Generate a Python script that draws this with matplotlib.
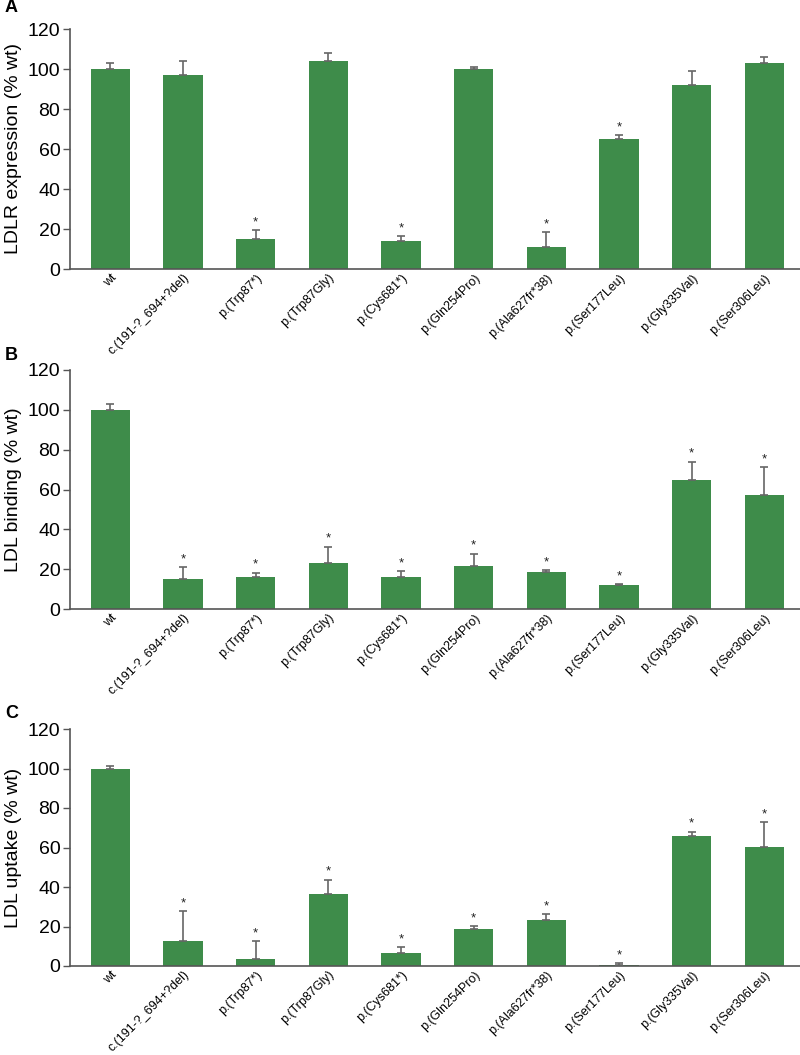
import matplotlib
matplotlib.use("Agg")
import matplotlib.pyplot as plt
from matplotlib import font_manager
import numpy as np

names = {f.name for f in font_manager.fontManager.ttflist}
fam = ['Liberation Sans Narrow'] if 'Liberation Sans Narrow' in names else ['Liberation Sans']
plt.rcParams['font.family'] = fam + ['DejaVu Sans']

categories = ["wt", "c.(191-?_694+?del)", "p.(Trp87*)", "p.(Trp87Gly)", "p.(Cys681*)",
              "p.(Gln254Pro)", "p.(Ala627fr*38)", "p.(Ser177Leu)", "p.(Gly335Val)", "p.(Ser306Leu)"]

expr_vals = [100, 97, 15, 104, 14, 100, 11, 65, 92, 103]
expr_err = [3, 7, 4.5, 4, 2.5, 1, 7.5, 2, 7, 3]
expr_sig = [0, 0, 1, 0, 1, 0, 1, 1, 0, 0]

bind_vals = [100, 15, 16, 23.3, 16, 21.6, 18.6, 12, 64.8, 57.3]
bind_err = [2.7, 6, 2.3, 8, 3, 6.2, 0.8, 0.4, 9.2, 14]
bind_sig = [0, 1, 1, 1, 1, 1, 1, 1, 1, 1]

upt_vals = [100, 12.6, 3.4, 36.4, 6.4, 18.6, 23.3, 0.5, 65.8, 60.4]
upt_err = [1.3, 15.1, 9.2, 7.2, 3.2, 1.5, 3, 0.8, 2.3, 12.5]
upt_sig = [0, 1, 1, 1, 1, 1, 1, 1, 1, 1]

panels = [
    ("A", "LDLR expression (% wt)", expr_vals, expr_err, expr_sig),
    ("B", "LDL binding (% wt)", bind_vals, bind_err, bind_sig),
    ("C", "LDL uptake (% wt)", upt_vals, upt_err, upt_sig),
]

W, H = 800, 1055
fig = plt.figure(figsize=(W / 100, H / 100), dpi=100)
green = "#3e8c4a"
axis_col = "#555555"

# (top px, bottom px, label y px)
boxes = [(29, 269, 8), (370, 609, 355), (729, 966, 713)]

for (letter, ylabel, vals, errs, sig), (top, bot, ly) in zip(panels, boxes):
    ax = fig.add_axes([70 / W, 1 - bot / H, 1 - 70 / W, (bot - top) / H])
    x = np.arange(len(categories))
    ax.bar(x, vals, width=0.54, color=green, zorder=2)
    ax.errorbar(x, vals, yerr=[np.zeros(len(errs)), errs], fmt='none',
                ecolor="#666666", elinewidth=1.2, capsize=3, capthick=1.2, zorder=3)
    for xi, v, e, s in zip(x, vals, errs, sig):
        if s:
            ax.text(xi, v + e + 1.0, "*", ha="center", va="bottom", fontsize=9.5, color="#222222")
    ax.set_xlim(-0.555, 9.49)
    ax.set_ylim(0, 120)
    ax.set_yticks([0, 20, 40, 60, 80, 100, 120])
    ax.tick_params(axis='y', labelsize=14, length=5, width=1, color=axis_col, pad=2)
    ax.set_xticks(x)
    ax.set_xticklabels(categories, rotation=45, ha="right", rotation_mode="anchor", fontsize=9.0)
    ax.tick_params(axis='x', length=0, pad=2)
    for s in ["top", "right"]:
        ax.spines[s].set_visible(False)
    for s in ["left", "bottom"]:
        ax.spines[s].set_color(axis_col)
        ax.spines[s].set_linewidth(1.2)
    ax.set_ylabel(ylabel, fontsize=14, labelpad=4)
    fig.text(5 / W, 1 - ly / H, letter, fontsize=13, fontweight="bold", va="center", ha="left",
             family=['Liberation Sans', 'DejaVu Sans'])

fig.savefig("out.png", dpi=100)
